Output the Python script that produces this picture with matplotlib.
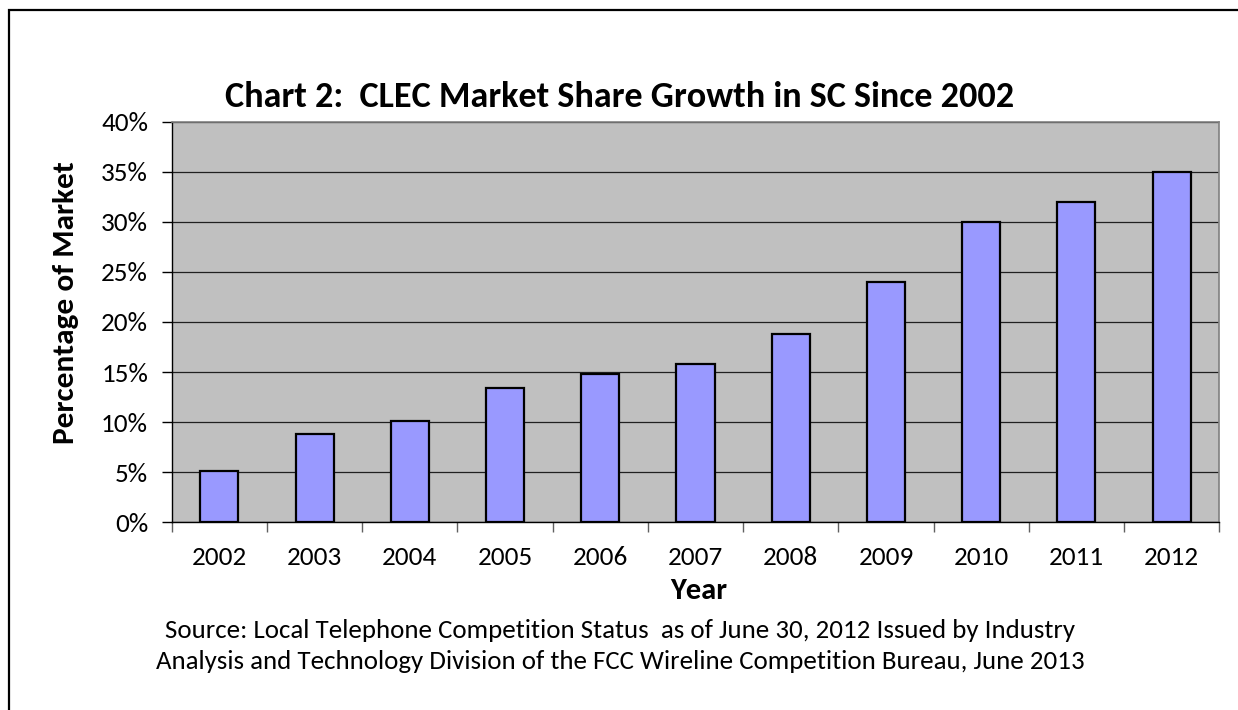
import matplotlib.pyplot as plt
from matplotlib.ticker import FuncFormatter, FixedLocator
from matplotlib.patches import Rectangle

plt.rcParams['font.family'] = ['Carlito', 'Lato', 'DejaVu Sans']

years = ['2002', '2003', '2004', '2005', '2006', '2007', '2008', '2009', '2010', '2011', '2012']
share = [5.1, 8.8, 10.1, 13.4, 14.8, 15.8, 18.8, 24.0, 30.0, 32.0, 35.0]

title = 'Chart 2:  CLEC Market Share Growth in SC Since 2002'
source = ('Source: Local Telephone Competition Status  as of June 30, 2012 Issued by Industry\n'
          'Analysis and Technology Division of the FCC Wireline Competition Bureau, June 2013')

W, H = 1238, 710
fig = plt.figure(figsize=(W / 100, H / 100), dpi=100)
ax = fig.add_axes([0.1387, 0.2644, 0.8462, 0.5642])

x = list(range(len(years)))
ax.bar(x, share, width=0.4, color='#9999FF', edgecolor='black', linewidth=1.6, zorder=3)

ax.set_facecolor('#C0C0C0')
ax.set_xlim(-0.5, len(years) - 0.5)
ax.set_ylim(0, 40)
ax.set_yticks(range(0, 41, 5))
ax.yaxis.set_major_formatter(FuncFormatter(lambda v, p: f'{int(v)}%'))
ax.grid(axis='y', color='#202020', linewidth=0.9, zorder=1)

# category labels in the middle, tick marks on the boundaries
ax.set_xticks(x)
ax.set_xticklabels(years)
ax.tick_params(axis='x', which='major', length=0, pad=17, labelsize=19.5)
ax.xaxis.set_minor_locator(FixedLocator([i - 0.5 for i in range(len(years) + 1)]))
ax.tick_params(axis='x', which='minor', length=7, width=1, color='#606060', direction='out')
ax.tick_params(axis='y', length=7, width=1, color='black', direction='out', pad=10, labelsize=19.5)

for side in ['top', 'right']:
    ax.spines[side].set_color('#808080')
    ax.spines[side].set_linewidth(1.2)
for side in ['left', 'bottom']:
    ax.spines[side].set_color('black')
    ax.spines[side].set_linewidth(1.0)

fig.text(699 / W, 1 - 591 / H, 'Year', ha='center', va='center', fontsize=22, fontweight='bold')
fig.text(66 / W, 1 - 303 / H, 'Percentage of Market', ha='center', va='center',
         rotation=90, fontsize=22.5, fontweight='bold')

fig.text(620 / W, 1 - 97 / H, title, ha='center', va='center', fontsize=26, fontweight='bold')
fig.text(620 / W, 1 - 646 / H, source, ha='center', va='center', fontsize=19.4, linespacing=1.45)

# outer frame open to the right and bottom
fig.add_artist(Rectangle((9 / W, -0.1), 1.2, 1 - 10 / H + 0.1, transform=fig.transFigure,
                         fill=False, edgecolor='black', linewidth=1.6))

fig.savefig('out.png', dpi=100)
